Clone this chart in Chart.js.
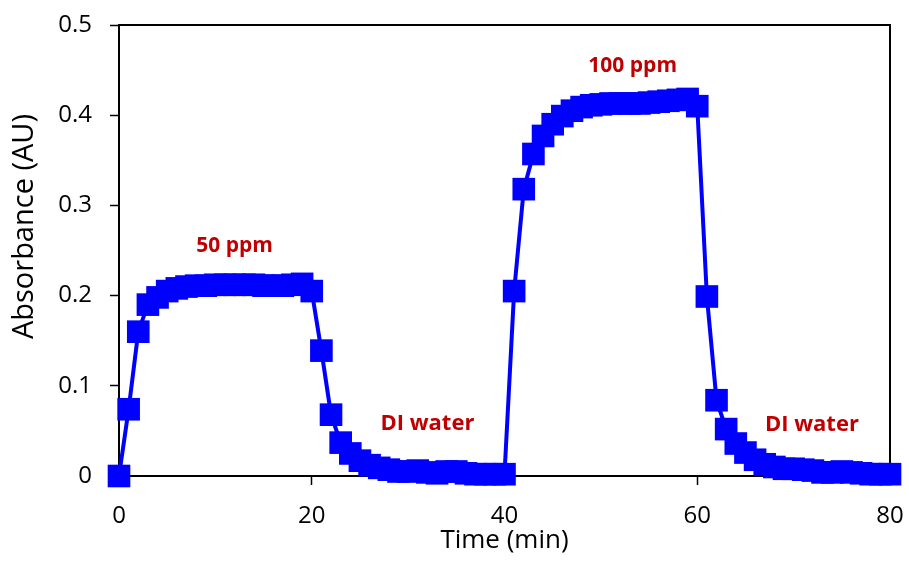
<!DOCTYPE html>
<html>
<head>
<meta charset="utf-8">
<script src="https://cdn.jsdelivr.net/npm/chart.js@4/dist/chart.umd.min.js"></script>
<style>
  html, body { margin: 0; padding: 0; background: #fff; }
  #wrap { width: 909px; height: 566px; }
</style>
</head>
<body>
<div id="wrap"><canvas id="myChart" width="909" height="566"></canvas></div>
<script>
// time in minutes, one reading per minute
const times = [
  0, 1, 2, 3, 4, 5, 6, 7, 8, 9,
  10, 11, 12, 13, 14, 15, 16, 17, 18, 19,
  20, 21, 22, 23, 24, 25, 26, 27, 28, 29,
  30, 31, 32, 33, 34, 35, 36, 37, 38, 39,
  40, 41, 42, 43, 44, 45, 46, 47, 48, 49,
  50, 51, 52, 53, 54, 55, 56, 57, 58, 59,
  60, 61, 62, 63, 64, 65, 66, 67, 68, 69,
  70, 71, 72, 73, 74, 75, 76, 77, 78, 79,
  80,
];
const absorbance = [
  0, 0.074, 0.16, 0.19, 0.198, 0.205, 0.208, 0.21, 0.211, 0.211,
  0.212, 0.212, 0.212, 0.212, 0.212, 0.211, 0.211, 0.211, 0.212, 0.213,
  0.205, 0.139, 0.068, 0.037, 0.025, 0.017, 0.012, 0.009, 0.007, 0.005,
  0.005, 0.006, 0.004, 0.003, 0.005, 0.005, 0.003, 0.002, 0.002, 0.002,
  0.002, 0.205, 0.318, 0.357, 0.377, 0.39, 0.399, 0.405, 0.409, 0.411,
  0.412, 0.413, 0.413, 0.413, 0.413, 0.414, 0.415, 0.416, 0.417, 0.418,
  0.41, 0.199, 0.084, 0.052, 0.036, 0.026, 0.018, 0.013, 0.01, 0.008,
  0.008, 0.007, 0.006, 0.004, 0.004, 0.005, 0.004, 0.003, 0.002, 0.002,
  0.002,
];
const xTicks = [0, 20, 40, 60, 80];
const yTickLabels = ['0', '0.1', '0.2', '0.3', '0.4', '0.5'];

// text annotations placed at data coordinates
const notes = [
  { text: '50 ppm', x: 12.0, y: 0.255, size: 21 },
  { text: '100 ppm', x: 53.3, y: 0.4545, size: 21 },
  { text: 'DI water', x: 32.0, y: 0.0576, size: 22 },
  { text: 'DI water', x: 71.9, y: 0.0565, size: 22 },
];

const FONT = "'Open Sans', sans-serif";

const framePlugin = {
  id: 'frame',
  beforeDatasetsDraw(chart) {
    const { ctx, chartArea: a } = chart;
    ctx.save();
    ctx.strokeStyle = '#000';
    ctx.lineWidth = 2;
    ctx.strokeRect(a.left, a.top, a.right - a.left, a.bottom - a.top);
    ctx.restore();
  },
  afterDatasetsDraw(chart) {
    const { ctx, chartArea: a, scales } = chart;
    ctx.save();
    ctx.fillStyle = '#C00000';
    ctx.textAlign = 'center';
    ctx.textBaseline = 'middle';
    notes.forEach((n) => {
      ctx.font = 'bold ' + n.size + 'px ' + FONT;
      ctx.fillText(n.text, scales.x.getPixelForValue(n.x), scales.y.getPixelForValue(n.y));
    });
    // y axis title (sits a little above the middle of the plot, as in the source)
    ctx.fillStyle = '#000';
    ctx.font = '29px ' + FONT;
    ctx.translate(25, (a.top + a.bottom) / 2 - 24);
    ctx.rotate(-Math.PI / 2);
    ctx.fillText('Absorbance (AU)', 0, 0);
    ctx.restore();
  },
};

const ctx = document.getElementById('myChart');

new Chart(ctx, {
  type: 'line',
  data: {
    datasets: [
      {
        label: 'Absorbance',
        data: times.map((t, i) => ({ x: t, y: absorbance[i] })),
        borderColor: '#0000FF',
        backgroundColor: '#0000FF',
        borderWidth: 4,
        tension: 0,
        pointStyle: 'rect',
        pointRadius: 16,
        pointBorderWidth: 0,
        pointBackgroundColor: '#0000FF',
        clip: false,
      },
    ],
  },
  plugins: [framePlugin],
  options: {
    responsive: false,
    animation: false,
    layout: { padding: { top: 25, right: 19, left: 0, bottom: 0 } },
    plugins: {
      legend: { display: false },
      tooltip: { enabled: false },
    },
    scales: {
      x: {
        type: 'linear',
        min: 0,
        max: 80,
        afterFit: (scale) => {
          scale.height = 90;
          scale.paddingLeft = 0;
          scale.paddingRight = 0;
        },
        afterBuildTicks: (scale) => {
          scale.ticks = xTicks.map((v) => ({ value: v }));
        },
        ticks: {
          color: '#000',
          font: { family: FONT, size: 24 },
          padding: 17,
          maxRotation: 0,
        },
        grid: {
          drawOnChartArea: false,
          tickLength: 9,
          color: '#000',
          tickWidth: 1.5,
        },
        border: { color: '#000', width: 2 },
        title: {
          display: true,
          text: 'Time (min)',
          color: '#000',
          font: { family: FONT, size: 26 },
          padding: { top: 0, bottom: 10 },
        },
      },
      y: {
        type: 'linear',
        min: 0,
        max: 0.5,
        afterFit: (scale) => {
          scale.width = 119;
          scale.paddingTop = 0;
          scale.paddingBottom = 0;
        },
        ticks: {
          stepSize: 0.1,
          color: '#000',
          font: { family: FONT, size: 24 },
          padding: 18,
          callback: (value) => yTickLabels[Math.round(value * 10)],
        },
        grid: {
          drawOnChartArea: false,
          tickLength: 9,
          color: '#000',
          tickWidth: 1.5,
        },
        border: { color: '#000', width: 2 },
      },
    },
  },
});
</script>
</body>
</html>
